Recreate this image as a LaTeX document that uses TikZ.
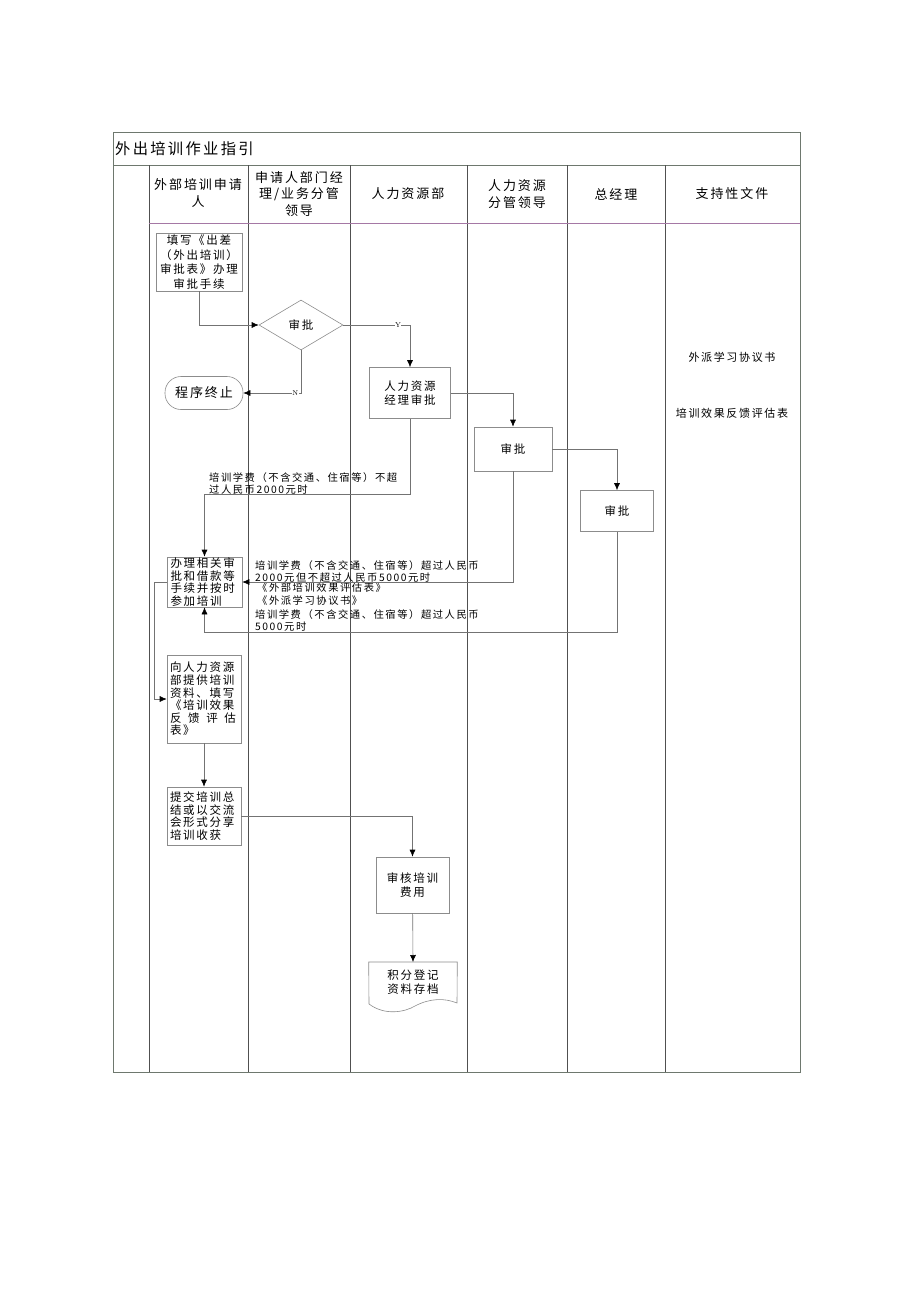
\documentclass[tikz,border=0pt]{standalone}
\usepackage{fontspec}
\newfontfamily\cjk[LetterSpace=15]{Noto Sans CJK SC}
\usepackage{tikz}
\usetikzlibrary{shapes,arrows.meta}
\definecolor{framegray}{RGB}{110,120,110}
\definecolor{lanegray}{RGB}{80,80,80}
\definecolor{headline}{RGB}{165,120,165}
\definecolor{boxgray}{RGB}{140,140,140}
\definecolor{flowgray}{RGB}{115,115,115}
\tikzstyle{process} = [rectangle,draw=boxgray,line width=0.6pt,inner sep=0pt,align=center,font=\cjk\fontsize{11.5}{14.6}\selectfont]
\tikzstyle{processl} = [process,align=left,text width=68pt,font=\cjk\fontsize{11.5}{12.6}\selectfont]
\tikzstyle{decision} = [diamond,draw=boxgray,line width=0.6pt,inner sep=0pt,minimum width=84pt,minimum height=50pt,font=\cjk\fontsize{11.5}{14}\selectfont]
\tikzstyle{startstop} = [rectangle,rounded corners=16pt,draw=boxgray,line width=0.6pt,minimum width=78pt,minimum height=33pt,font=\cjk\fontsize{13}{15}\selectfont]
\tikzstyle{lanehead} = [align=center,inner sep=0pt,font=\cjk\fontsize{13}{16.5}\selectfont]
\tikzstyle{note} = [anchor=north west,align=left,inner sep=0pt,font=\cjk\fontsize{10.3}{12.4}\selectfont]
\tikzstyle{docname} = [inner sep=0pt,font=\cjk\fontsize{11}{13}\selectfont]
\tikzstyle{yn} = [fill=white,inner sep=0.5pt,font=\fontsize{7}{8}\selectfont]
\tikzstyle{arrow} = [draw=flowgray,line width=0.6pt,-{Latex[length=7pt,width=6pt,color=black]}]

\begin{document}
\begin{tikzpicture}[x=1pt,y=-1pt]
\useasboundingbox (0,0) rectangle (920,1302);
% table frame and lanes
\draw [framegray,line width=0.7pt] (113,132) rectangle (800,1072);
\draw [framegray,line width=0.7pt] (113,165) -- (800,165);
\foreach \x in {149,248,350,467,567,665}
  \draw [lanegray,line width=0.6pt] (\x,165) -- (\x,1072);
\draw [headline,line width=0.7pt] (149,223) -- (800,223);

\node (title) [anchor=west,inner sep=0pt,font=\cjk\fontsize{15.3}{18}\selectfont] at (115,149) {外出培训作业指引};
\node (h1) [lanehead] at (198,193) {外部培训申请\\人};
\node (h2) [lanehead] at (299,194) {申请人部门经\\理/业务分管\\领导};
\node (h3) [lanehead] at (408,194) {人力资源部};
\node (h4) [lanehead] at (517,194) {人力资源\\分管领导};
\node (h5) [lanehead] at (616,194) {总经理};
\node (h6) [lanehead] at (732,194) {支持性文件};

% flow
\node (apply) [process,minimum width=86pt,minimum height=58pt] at (199,262) {填写《出差\\（外出培训）\\审批表》办理\\审批手续};
\node (check) [decision] at (301,325) {审批};
\node (stop) [startstop] at (204,393) {程序终止};
\node (hrmgr) [process,minimum width=81pt,minimum height=51pt] at (410,393) {人力资源\\经理审批};
\node (hrlead) [process,minimum width=78pt,minimum height=44pt] at (513,449) {审批};
\node (gm) [process,minimum width=73pt,minimum height=41pt] at (617,511) {审批};
\node (prep) [processl,minimum width=75pt,minimum height=50pt] at (204.5,582) {办理相关审\\批和借款等\\手续并按时\\参加培训};
\node (feedback) [processl,minimum width=74pt,minimum height=88pt] at (204,699) {向人力资源\\部提供培训\\资料、填写\\《培训效果\\\makebox[66pt][s]{反\hfill 馈\hfill 评\hfill 估}\\表》};
\node (summary) [processl,minimum width=74pt,minimum height=58pt] at (204,816) {提交培训总\\结或以交流\\会形式分享\\培训收获};
\node (audit) [process,minimum width=73pt,minimum height=56pt] at (412.5,885) {审核培训\\费用};
\node (archive) [process,draw=none,minimum width=88pt,minimum height=40pt,anchor=north] at (413,962) {积分登记\\资料存档};
\draw [boxgray,line width=0.6pt] (archive.north west) -- (archive.north east) -- (457,1003)
  .. controls (445,998) and (430,998) .. (415,1006)
  .. controls (405,1012) and (385,1016) .. (369,1004) -- cycle;

\node (doc1) [docname] at (732,357) {外派学习协议书};
\node (doc2) [docname] at (732,413) {培训效果反馈评估表};

\node (lt2000) [note] at (209,472) {培训学费（不含交通、住宿等）不超\\过人民币2000元时};
\node (lt5000) [note] at (255,560) {培训学费（不含交通、住宿等）超过人民币\\2000元但不超过人民币5000元时};
\node (forms) [note] at (257,583) {《外部培训效果评估表》\\《外派学习协议书》};
\node (gt5000) [note] at (255,609) {培训学费（不含交通、住宿等）超过人民币\\5000元时};

\draw [arrow] (apply.south) |- (check.west);
\draw [arrow] (check.south) |- node[yn,pos=0.55] {N} (stop.east);
\draw [arrow] (check.east) -| node[yn,pos=0.41] {Y} (hrmgr.north);
\draw [arrow] (hrmgr.east) -| (hrlead.north);
\draw [arrow] (hrlead.east) -| (gm.north);
\draw [arrow] (hrmgr.south) -- ++(0,75) -| (prep.north);
\draw [arrow] (hrlead.south) |- (prep.east);
\draw [arrow] (gm.south) -- ++(0,100) -| (prep.south);
\draw [arrow] (prep.west) -- ++(-12,0) |- (feedback.west);
\draw [arrow] (feedback) -- (summary);
\draw [arrow] (summary.east) -| (audit.north);
\draw [arrow] (audit) -- (archive.north);
\end{tikzpicture}
\end{document}
